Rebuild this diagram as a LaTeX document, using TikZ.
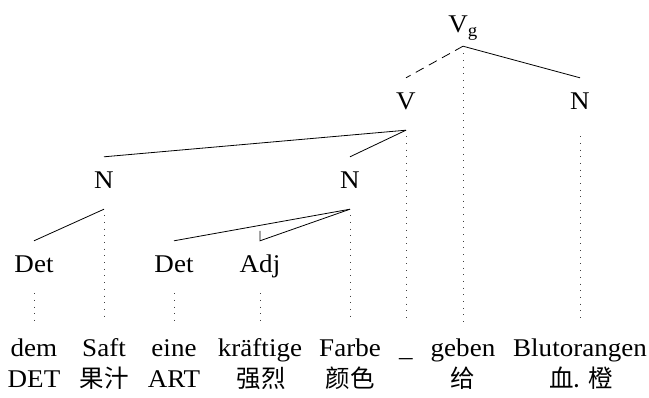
\documentclass[tikz,border=0pt]{standalone}
\usepackage{fontspec}
\setmainfont{Liberation Serif}[FakeStretch=1.06]
\newfontfamily\cjk{Noto Sans CJK SC}
\begin{document}
\begin{tikzpicture}[x=1pt,y=-1pt,
  font=\fontsize{25.5}{30}\selectfont,
  tn/.style={inner xsep=0pt, inner ysep=15pt, text height=17pt, text depth=5pt, anchor=base},
  topn/.style={inner xsep=0pt, inner ysep=13pt, text height=17pt, text depth=0pt, anchor=base},
  wd/.style={inner xsep=0pt, inner ysep=18pt, text height=17pt, text depth=5pt, anchor=base},
  gl/.style={inner sep=0pt, anchor=base},
  cj/.style={gl, font=\cjk\fontsize{24.5}{28}\selectfont},
  edge/.style={line width=0.8pt},
  dashedge/.style={line width=0.8pt, dash pattern=on 9pt off 6pt},
  proj/.style={line width=0.9pt, dash pattern=on 0.9pt off 5.8pt, black!75},
]
\useasboundingbox (0,0) rectangle (649,398);

% tree nodes
\node[topn] (vg) at (463,33) {V\textsubscript{g}};
\node[tn] (v) at (406,110) {V};
\node[tn] (n3) at (580,110) {N};
\node[tn] (n1) at (104,189) {N};
\node[tn] (n2) at (350,189) {N};
\node[tn] (det1) at (34,273) {Det};
\node[tn] (det2) at (174,273) {Det};
\node[tn] (adj) at (260,273) {Adj};

% words
\node[wd] (w1) at (34,357) {dem};
\node[wd] (w2) at (104,357) {Saft};
\node[wd] (w3) at (174,357) {eine};
\node[wd] (w4) at (260,357) {kräftige};
\node[wd] (w5) at (350,357) {Farbe};
\node[wd] (w6) at (406,357) {\_};
\node[wd] (w7) at (463,357) {geben};
\node[wd] (w8) at (580,357) {Blutorangen};

% glosses
\node[gl] (g1) at (34,388) {DET};
\node[cj] (g2) at (104,388) {果汁};
\node[gl] (g3) at (174,388) {ART};
\node[cj] (g4) at (261,388) {强烈};
\node[cj] (g5) at (350,388) {颜色};
\node[cj] (g7) at (463,388) {给};
\node[cj] (g8) at (581,388) {血. 橙};

% edges
\draw[dashedge] (vg.south) -- (v.north);
\draw[edge] (vg.south) -- (n3.north);
\draw[edge] (v.south) -- (n1.north);
\draw[edge] (v.south) -- (n2.north);
\draw[edge] (n1.south) -- (det1.north);
\draw[edge] (n2.south) -- (det2.north);
\draw[edge] (n2.south) -- (adj.north) -- ++(0,-10);

% projection lines
\draw[proj] ([yshift=-7pt]vg.south) -- (w7.north);
\draw[proj] ([yshift=-6pt]v.south) -- (w6.north);
\draw[proj] ([yshift=-6pt]n3.south) -- (w8.north);
\draw[proj] ([yshift=-6pt]n1.south) -- (w2.north);
\draw[proj] ([yshift=-6pt]n2.south) -- (w5.north);
\draw[proj] (det1.south) -- (w1.north);
\draw[proj] (det2.south) -- (w3.north);
\draw[proj] (adj.south) -- (w4.north);
\end{tikzpicture}
\end{document}
